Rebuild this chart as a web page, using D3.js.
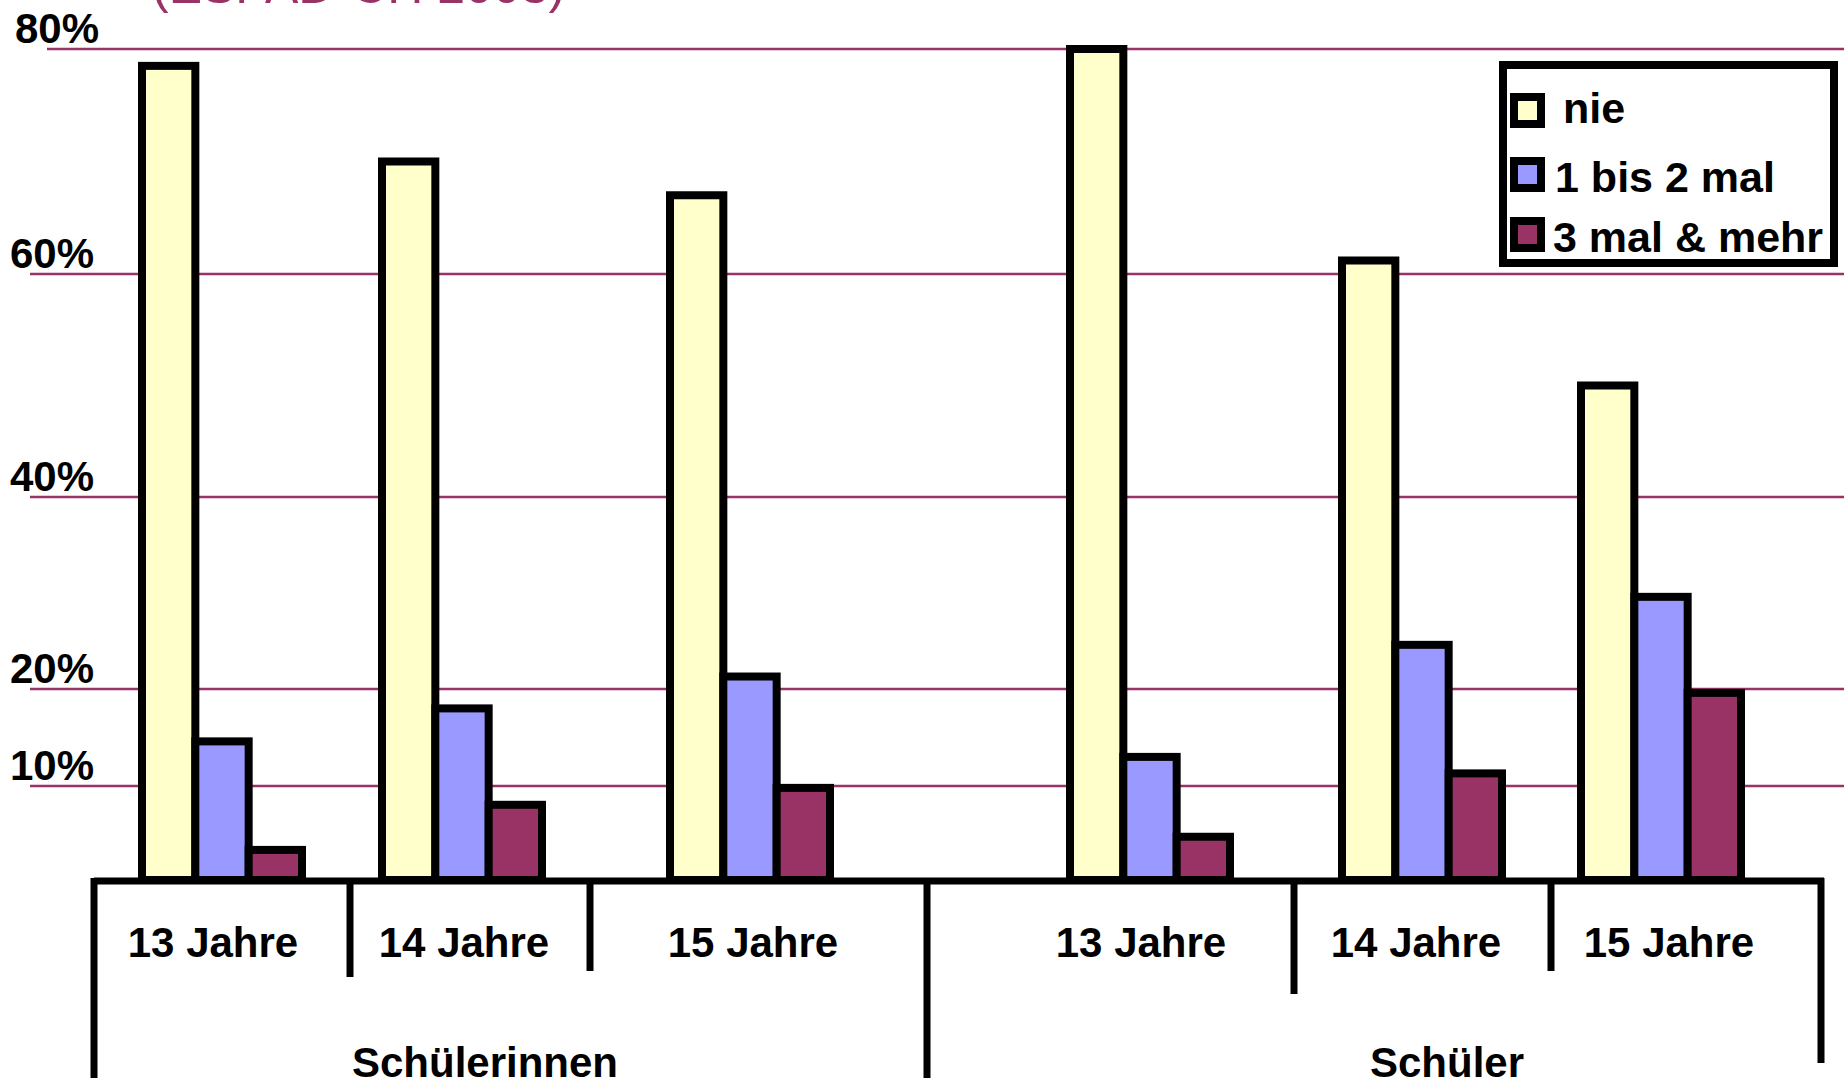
<!DOCTYPE html>
<html><head><meta charset="utf-8">
<script src="https://cdn.jsdelivr.net/npm/d3@7"></script>
<style>
html,body{margin:0;padding:0;background:#fff;overflow:hidden}
text{font-family:"Liberation Sans",Arial,sans-serif}
</style></head>
<body><svg id="c" width="1844" height="1078"></svg>
<script>
// ---- data ----
const genders = ["Schülerinnen", "Schüler"];
const ages = ["13 Jahre", "14 Jahre", "15 Jahre"];
const seriesNames = ["nie", "1 bis 2 mal", "3 mal & mehr"];
const nieValues = [78.5, 70, 67, 80, 61.2, 50];
const einBisZweiValues = [14.6, 18, 21.3, 13, 24.6, 29.6];
const dreiUndMehrValues = [3.2, 8, 9.8, 4.6, 11.3, 19.6];
const yTickValues = [10, 20, 40, 60, 80];
const yTickLabels = ["10%", "20%", "40%", "60%", "80%"];
const titleText = "(ESPAD-CH 2003)";

// ---- layout / style ----
const colors = ["#FFFFCC", "#9999FF", "#993366"];
const gridColor = "#993366";
const svg = d3.select("#c");
svg.append("rect").attr("width", 1844).attr("height", 1078).attr("fill", "#fff");

const groups = genders.flatMap(g => ages.map(a => g + "|" + a));
const seriesValues = [nieValues, einBisZweiValues, dreiUndMehrValues];

// non-uniform value axis as in the original slide
const y = d3.scaleLinear().domain([0, 10, 20, 40, 60, 80]).range([880, 786, 689, 497, 274, 49]);
const x0 = d3.scaleOrdinal().domain(groups).range([222, 462, 750, 1150, 1422, 1661]);
const xLabel = d3.scaleOrdinal().domain(groups).range([213, 464, 753, 1141, 1416, 1669]);
const x1 = d3.scaleBand().domain(seriesNames).range([-80, 80]);

// title (cut at the top)
svg.append("text").attr("x", 152).attr("y", 3)
  .attr("font-size", 50).attr("fill", gridColor).text(titleText);

// gridlines
svg.append("g").selectAll("line").data(yTickValues).join("line")
  .attr("x1", d => d === 80 ? 47 : 30).attr("x2", 1844)
  .attr("y1", d => y(d)).attr("y2", d => y(d))
  .attr("stroke", gridColor).attr("stroke-width", 2.5);

// y labels
svg.append("g").selectAll("text").data(yTickValues).join("text")
  .attr("x", d => d === 80 ? 15 : 10).attr("y", d => y(d) - 6)
  .attr("font-size", 42).attr("font-weight", "bold").attr("fill", "#000")
  .text((d, i) => yTickLabels[i]);

// bars
const barData = [];
groups.forEach((g, gi) => seriesNames.forEach((s, si) =>
  barData.push({ g, s, si, v: seriesValues[si][gi] })));
svg.append("g").selectAll("rect").data(barData).join("rect")
  .attr("x", d => x0(d.g) + x1(d.s))
  .attr("y", d => y(d.v))
  .attr("width", x1.bandwidth())
  .attr("height", d => y(0) - y(d.v))
  .attr("fill", d => colors[d.si])
  .attr("stroke", "#000").attr("stroke-width", 8);

// category axis (hierarchical boxes)
const ax = svg.append("g").attr("stroke", "#000").attr("stroke-width", 7);
ax.append("line").attr("x1", 94).attr("x2", 1824).attr("y1", 881).attr("y2", 881);
const seps = [[94, 1078], [350, 977], [590, 971], [927, 1078], [1294, 994], [1551, 971], [1821, 1063]];
ax.selectAll("line.sep").data(seps).join("line").attr("class", "sep")
  .attr("x1", d => d[0]).attr("x2", d => d[0])
  .attr("y1", 878).attr("y2", d => d[1]);

svg.append("g").selectAll("text").data(groups).join("text")
  .attr("x", d => xLabel(d)).attr("y", 957)
  .attr("text-anchor", "middle").attr("font-size", 42).attr("font-weight", "bold")
  .text(d => d.split("|")[1]);

const genderLabelX = [485, 1447];
svg.append("g").selectAll("text").data(genders).join("text")
  .attr("x", (d, i) => genderLabelX[i]).attr("y", 1077)
  .attr("text-anchor", "middle").attr("font-size", 42).attr("font-weight", "bold")
  .text(d => d);

// legend
const lg = svg.append("g");
lg.append("rect").attr("x", 1503).attr("y", 65).attr("width", 331).attr("height", 198)
  .attr("fill", "#fff").attr("stroke", "#000").attr("stroke-width", 8);
const legSwY = d3.scaleOrdinal().domain(seriesNames).range([97, 161, 221]);
const legTxt = d3.scaleOrdinal().domain(seriesNames).range([[1563, 123], [1555, 192], [1553, 252]]);
lg.selectAll("rect.sw").data(seriesNames).join("rect").attr("class", "sw")
  .attr("x", 1514).attr("y", d => legSwY(d))
  .attr("width", 27).attr("height", 27)
  .attr("fill", (d, i) => colors[i]).attr("stroke", "#000").attr("stroke-width", 8);
lg.selectAll("text").data(seriesNames).join("text")
  .attr("x", d => legTxt(d)[0]).attr("y", d => legTxt(d)[1])
  .attr("font-size", 43).attr("font-weight", "bold").text(d => d);
</script>
</body></html>
